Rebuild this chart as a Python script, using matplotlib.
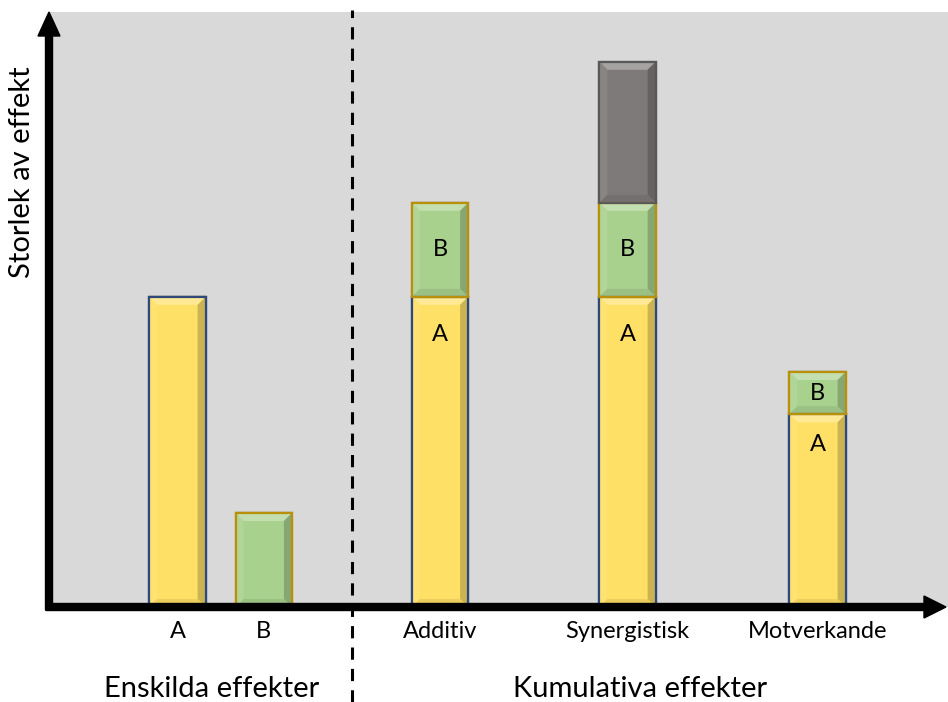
import matplotlib
matplotlib.use("Agg")
import matplotlib.pyplot as plt
from matplotlib.patches import Polygon, FancyArrow
from matplotlib.lines import Line2D
import numpy as np

plt.rcParams['font.family'] = ['Lato', 'DejaVu Sans']

categories = ["A", "B", "Additiv", "Synergistisk", "Motverkande"]
positions = [1.02, 1.71, 3.12, 4.62, 6.14]
a_values = [3.3, 0.0, 3.3, 3.3, 2.05]
b_values = [0.0, 1.0, 1.0, 1.0, 0.45]
syn_values = [0.0, 0.0, 0.0, 1.5, 0.0]
inner_labels = [False, False, True, True, True]
group_labels = ["Enskilda effekter", "Kumulativa effekter"]
ylabel = "Storlek av effekt"

W, H = 948, 702
fig = plt.figure(figsize=(W / 100, H / 100), dpi=100)
ax = fig.add_axes([50 / W, (H - 607) / H, 898 / W, 595 / H])
ax.set_facecolor('#D9D9D9')
ax.set_xlim(0, 7.184)
ax.set_ylim(0, 6.33)
for s in ax.spines.values():
    s.set_visible(False)
ax.set_xticks([])
ax.set_yticks([])

width = 0.45
yellow, yedge = '#FFE066', '#2F4A7A'
green, gedge = '#A9D18E', '#B8900A'
grey, grey_edge = '#7F7A7A', '#5A5858'

a_arr = np.array(a_values)
b_arr = np.array(b_values)
s_arr = np.array(syn_values)

bars_a = ax.bar(positions, a_arr, width, color=yellow, edgecolor=yedge, linewidth=1.6, zorder=2)
bars_b = ax.bar(positions, b_arr, width, bottom=a_arr, color=green, edgecolor=gedge, linewidth=1.6, zorder=2)
bars_s = ax.bar(positions, s_arr, width, bottom=a_arr + b_arr, color=grey, edgecolor=grey_edge, linewidth=1.6, zorder=2)

fig.canvas.draw()

def lighten(c, f):
    c = np.array(matplotlib.colors.to_rgb(c))
    return tuple(c + (1 - c) * f)

def darken(c, f):
    c = np.array(matplotlib.colors.to_rgb(c))
    return tuple(c * (1 - f))

def bevel(patch, base):
    if patch.get_height() <= 0:
        return
    x0, y0 = patch.get_x(), patch.get_y()
    x1, y1 = x0 + patch.get_width(), y0 + patch.get_height()
    inv = ax.transData.inverted()
    (p0x, p0y) = ax.transData.transform((x0, y0))
    (p1x, p1y) = ax.transData.transform((x1, y1))
    b = 8
    ix0, iy0 = inv.transform((p0x + b, p0y + b))
    ix1, iy1 = inv.transform((p1x - b, p1y - b))
    top = [(x0, y1), (x1, y1), (ix1, iy1), (ix0, iy1)]
    right = [(x1, y1), (x1, y0), (ix1, iy0), (ix1, iy1)]
    left = [(x0, y1), (x0, y0), (ix0, iy0), (ix0, iy1)]
    bottom = [(x0, y0), (x1, y0), (ix1, iy0), (ix0, iy0)]
    for poly, col in [(top, lighten(base, 0.3)), (right, darken(base, 0.2)),
                      (left, lighten(base, 0.08)), (bottom, darken(base, 0.08))]:
        ax.add_patch(Polygon(poly, closed=True, facecolor=col, edgecolor='none', zorder=2.5))

for container, base in [(bars_a, yellow), (bars_b, green), (bars_s, grey)]:
    for p in container:
        bevel(p, base)
for container in [bars_a, bars_b, bars_s]:
    for p in container:
        if p.get_height() > 0:
            ax.add_patch(plt.Rectangle((p.get_x(), p.get_y()), p.get_width(), p.get_height(),
                                       fill=False, edgecolor=p.get_edgecolor(), linewidth=1.6, zorder=3))

# inner labels
for x, a, b, show in zip(positions, a_values, b_values, inner_labels):
    if show:
        ax.text(x, a + b / 2, "B", ha='center', va='center', fontsize=17, zorder=4)
        off = -38 if b >= 1.0 else -30
        ax.annotate("A", (x, a), xytext=(0, off), textcoords='offset pixels',
                    ha='center', va='center', fontsize=17, zorder=4)

# category labels
for x, c in zip(positions, categories):
    px, _ = ax.transData.transform((x, 0))
    fig.text(px / W, (H - 631) / H, c, ha='center', va='center', fontsize=17)

fig.text(212 / W, (H - 689) / H, group_labels[0], ha='center', va='center', fontsize=21)
fig.text(640 / W, (H - 689) / H, group_labels[1], ha='center', va='center', fontsize=21)
fig.text(22 / W, (H - 172) / H, ylabel, ha='center', va='center', rotation=90, fontsize=21)

# axes arrows (figure pixel coordinates)
arrow_y = FancyArrow(49, H - 610, 0, 574, width=7, head_width=22,
                     head_length=24, color='black', transform=None)
arrow_x = FancyArrow(46, H - 607, 878, 0, width=7, head_width=22,
                     head_length=22, color='black', transform=None)
fig.patches.append(arrow_y)
fig.patches.append(arrow_x)
arrow_y.set_figure(fig)
arrow_x.set_figure(fig)

# dashed divider
fig.add_artist(Line2D([352 / W, 352 / W], [0, (H - 10) / H], color='black',
               linewidth=2.2, linestyle=(0, (4, 3)), transform=fig.transFigure))

fig.savefig('out.png', dpi=100)
